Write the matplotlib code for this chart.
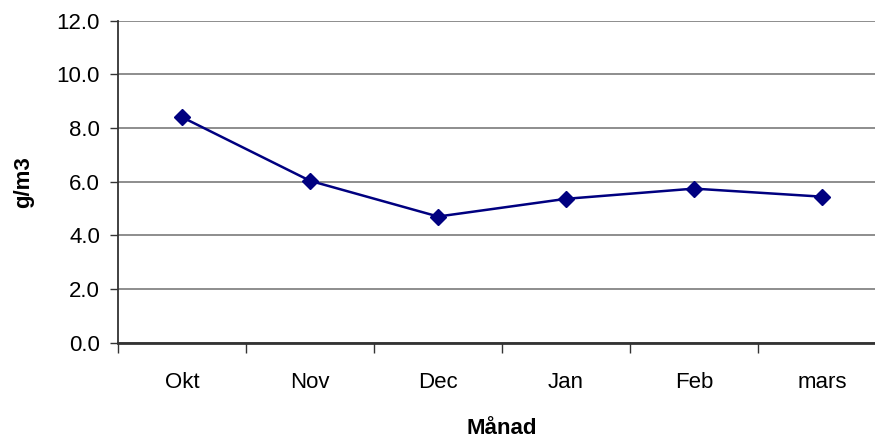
import matplotlib
matplotlib.use("Agg")
import matplotlib.pyplot as plt
import numpy as np

# data
months = ["Okt", "Nov", "Dec", "Jan", "Feb", "mars"]
values = [8.4, 6.03, 4.7, 5.36, 5.74, 5.44]
yticks = [0, 2, 4, 6, 8, 10, 12]

plt.rcParams['font.family'] = ['Liberation Sans', 'DejaVu Sans']

fig = plt.figure(figsize=(8.75, 4.38), dpi=100)
ax = fig.add_axes([0.135, 0.2176, 0.8776, 0.7354])

x = np.arange(len(months))
ax.plot(x, values, color="#000080", lw=1.8, marker="D", markersize=8, zorder=3)

ax.set_xlim(-0.5, len(months) - 0.5)
ax.set_ylim(0, 12)
ax.set_yticks(yticks)
ax.set_yticklabels([f"{v:.1f}" for v in yticks], fontsize=16)
ax.yaxis.grid(True, color="#7a7a7a", lw=1.2)
ax.set_axisbelow(True)

ax.set_xticks(x)
ax.set_xticklabels(months, fontsize=16)
ax.set_xticks(np.arange(-0.5, len(months)), minor=True)
ax.tick_params(axis="x", which="major", length=0, pad=21)
ax.tick_params(axis="x", which="minor", length=7, width=1, color="#333333")
ax.tick_params(axis="y", length=6, width=1, color="#333333", pad=7)

for s in ["top", "right"]:
    ax.spines[s].set_visible(False)
ax.spines["left"].set_color("#333333")
ax.spines["left"].set_linewidth(1.3)
ax.spines["bottom"].set_color("#333333")
ax.spines["bottom"].set_linewidth(2)

ax.set_ylabel("g/m3", fontsize=16, fontweight="bold", labelpad=16)
ax.set_xlabel("Månad", fontsize=16, fontweight="bold", labelpad=18)

fig.savefig("out.png", dpi=100)
